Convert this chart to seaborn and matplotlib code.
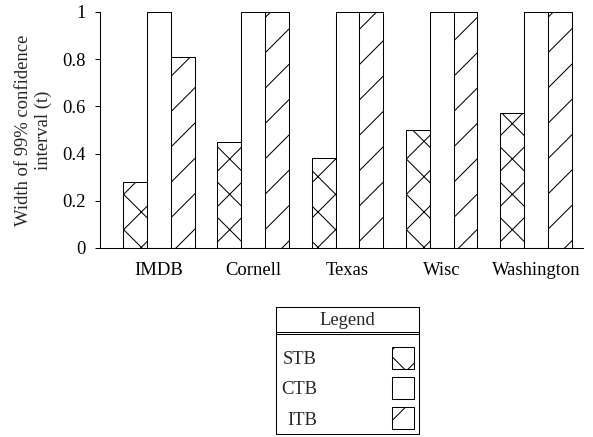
import matplotlib
matplotlib.use('Agg')
import matplotlib.pyplot as plt
import seaborn as sns
import pandas as pd
from matplotlib.patches import Patch
from matplotlib.lines import Line2D

# datos
datasets = ['IMDB', 'Cornell', 'Texas', 'Wisc', 'Washington']
methods = ['STB', 'CTB', 'ITB']
stb = [0.28, 0.45, 0.38, 0.50, 0.57]
ctb = [1.0, 1.0, 1.0, 1.0, 1.0]
itb = [0.81, 1.0, 1.0, 1.0, 1.0]
yticks = [0, 0.2, 0.4, 0.6, 0.8, 1]
ytick_labels = ['0', '0.2', '0.4', '0.6', '0.8', '1']
hatches = {'STB': 'x', 'CTB': '', 'ITB': '/'}

df = pd.DataFrame({
    'dataset': datasets * 3,
    'method': ['STB'] * 5 + ['CTB'] * 5 + ['ITB'] * 5,
    'width': stb + ctb + itb,
})

DPI = 106  # la trama del rayado depende del dpi
W, H = 593, 437
LW = 0.7
FS = 12.7

sns.set_style('ticks')
plt.rcParams['font.family'] = ['Liberation Serif', 'DejaVu Serif']
plt.rcParams['hatch.linewidth'] = LW
plt.rcParams['hatch.color'] = 'black'

fig = plt.figure(figsize=(W / DPI, H / DPI), dpi=DPI)
ax = fig.add_axes([100 / W, 1 - 248 / H, 483 / W, 236 / H])

sns.barplot(data=df, x='dataset', y='width', hue='method', order=datasets,
            hue_order=methods, palette={m: 'white' for m in methods},
            edgecolor='black', linewidth=LW, width=0.76, saturation=1,
            legend=False, ax=ax)
for cont, m in zip(ax.containers, methods):
    for bar in cont:
        bar.set_hatch(hatches[m])

ax.set_xlim(-0.626, 4.5)
ax.set_ylim(0, 1)
ax.set_yticks(yticks)
ax.set_yticklabels(ytick_labels)
ax.set_xlabel('')
ax.set_ylabel('Width of 99% confidence\ninterval (t)', fontsize=FS)
ax.yaxis.set_label_coords(-0.1, 0.5)
for s in ['top', 'right']:
    ax.spines[s].set_visible(False)
for s in ['left', 'bottom']:
    ax.spines[s].set_linewidth(LW)
    ax.spines[s].set_color('black')
ax.tick_params(axis='x', length=0, pad=9.5, labelsize=FS, colors='black')
ax.tick_params(axis='y', length=3.4, width=LW, pad=6.5, labelsize=FS, colors='black')

handles = [Patch(facecolor='white', edgecolor='black', hatch=hatches[m], linewidth=LW)
           for m in methods]
leg = fig.legend(handles, methods, title='Legend\n', loc='upper center',
                 bbox_to_anchor=(347.5 / W, 1 - 307 / H), markerfirst=False,
                 fontsize=FS, title_fontsize=FS, frameon=True, fancybox=False,
                 edgecolor='black', framealpha=1, handlelength=1.18,
                 handleheight=1.42, handletextpad=4.0, labelspacing=0.45,
                 borderpad=0.25, borderaxespad=0)
leg.get_frame().set_linewidth(LW)
leg.get_title().set_linespacing(0.45)

# linea doble bajo el titulo de la leyenda
fig.canvas.draw()
r = fig.canvas.get_renderer()
fb = leg.get_frame().get_window_extent(r)
hb = leg.legend_handles[0].get_window_extent(r)
for off in (13, 15):
    y = (hb.y1 + off) / H
    fig.add_artist(Line2D([fb.x0 / W, fb.x1 / W], [y, y], transform=fig.transFigure,
                          color='black', lw=LW, zorder=10))

fig.savefig('out.png', dpi=DPI)
